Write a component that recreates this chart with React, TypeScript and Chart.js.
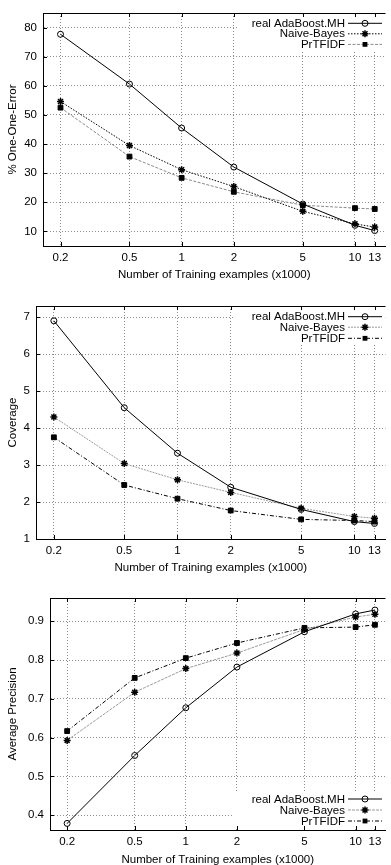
import React, { useEffect, useRef } from 'react';
import { Chart, registerables } from 'chart.js';

Chart.register(...registerables);

// ---------------- data ----------------
const TRAIN_SIZES = [0.2, 0.5, 1, 2, 5, 10, 13];
const X_TICK_LABELS = ['0.2', '0.5', '1', '2', '5', '10', '13'];
const SERIES_NAMES = ['real AdaBoost.MH', 'Naive-Bayes', 'PrTFIDF'];
const X_TITLE = 'Number of Training examples (x1000)';

const ONE_ERROR_ADABOOST = [77.7, 60.6, 45.5, 32.1, 19.4, 12.1, 10.3];
const ONE_ERROR_NAIVE_BAYES = [54.6, 39.5, 31.2, 25.4, 16.9, 12.6, 11.5];
const ONE_ERROR_PRTFIDF = [52.5, 35.7, 28.4, 23.6, 19.0, 18.0, 17.7];
const ONE_ERROR_TICKS = [10, 20, 30, 40, 50, 60, 70, 80];

const COVERAGE_ADABOOST = [6.9, 4.55, 3.32, 2.4, 1.8, 1.47, 1.42];
const COVERAGE_NAIVE_BAYES = [4.3, 3.04, 2.6, 2.26, 1.83, 1.61, 1.56];
const COVERAGE_PRTFIDF = [3.75, 2.46, 2.09, 1.77, 1.53, 1.5, 1.47];
const COVERAGE_TICKS = [1, 2, 3, 4, 5, 6, 7];

const AVGPREC_ADABOOST = [0.379, 0.554, 0.677, 0.782, 0.873, 0.919, 0.929];
const AVGPREC_NAIVE_BAYES = [0.593, 0.717, 0.778, 0.818, 0.879, 0.911, 0.918];
const AVGPREC_PRTFIDF = [0.617, 0.754, 0.805, 0.844, 0.883, 0.885, 0.891];
const AVGPREC_TICKS = [0.4, 0.5, 0.6, 0.7, 0.8, 0.9];

// ---------------- styling ----------------
const W = 391;
const X_MIN = 0.1585;
const X_MAX = 15;
const FONT_FAMILY = '"Liberation Sans", Arial, Helvetica, sans-serif';
const FONT_SIZE = 11.5;
const FONT = { family: FONT_FAMILY, size: FONT_SIZE };
const GRID_COLOR = '#8c8c8c';

type Marker = 'circle' | 'star' | 'rect';
interface SeriesStyle { color: string; dash: number[]; marker: Marker; }
interface LegendCfg { boxLeft: number; boxTop: number; boxBottom: number; rows: number[]; }
interface PanelCfg {
  top: number;
  height: number;
  areaTop: number;
  areaLeft: number;
  areaBottom: number;
  yTitle: string;
  yMin: number;
  yMax: number;
  yTicks: number[];
  values: number[][];
  styles: SeriesStyle[];
  legend: LegendCfg;
  xTitlePad: number;
}

const SOLID: SeriesStyle = { color: '#000', dash: [], marker: 'circle' };

const PANELS: PanelCfg[] = [
  {
    top: 0, height: 290, areaTop: 13, areaLeft: 43, areaBottom: 246,
    yTitle: '% One-One-Error', yMin: 5, yMax: 85, yTicks: ONE_ERROR_TICKS,
    values: [ONE_ERROR_ADABOOST, ONE_ERROR_NAIVE_BAYES, ONE_ERROR_PRTFIDF],
    styles: [
      SOLID,
      { color: '#000', dash: [1.5, 1.5], marker: 'star' },
      { color: '#8a8a8a', dash: [3, 1.5], marker: 'rect' },
    ],
    legend: { boxLeft: 238, boxTop: 13, boxBottom: 52, rows: [23.3, 33.8, 44.4] },
    xTitlePad: 8.1,
  },
  {
    top: 290, height: 290, areaTop: 16, areaLeft: 36, areaBottom: 249,
    yTitle: 'Coverage', yMin: 1, yMax: 7.3, yTicks: COVERAGE_TICKS,
    values: [COVERAGE_ADABOOST, COVERAGE_NAIVE_BAYES, COVERAGE_PRTFIDF],
    styles: [
      SOLID,
      { color: '#9a9a9a', dash: [2, 1], marker: 'star' },
      { color: '#000', dash: [4, 2, 1, 2], marker: 'rect' },
    ],
    legend: { boxLeft: 235, boxTop: 16, boxBottom: 55, rows: [26.7, 37.2, 48.3] },
    xTitlePad: 5.1,
  },
  {
    top: 580, height: 290, areaTop: 18, areaLeft: 50, areaBottom: 250,
    yTitle: 'Average Precision', yMin: 0.362, yMax: 0.96, yTicks: AVGPREC_TICKS,
    values: [AVGPREC_ADABOOST, AVGPREC_NAIVE_BAYES, AVGPREC_PRTFIDF],
    styles: [
      SOLID,
      { color: '#9a9a9a', dash: [3, 1], marker: 'star' },
      { color: '#000', dash: [4, 2, 1, 2], marker: 'rect' },
    ],
    legend: { boxLeft: 234, boxTop: 212, boxBottom: 249, rows: [219, 230, 241] },
    xTitlePad: 3.1,
  },
];

function drawMarker(ctx: CanvasRenderingContext2D, marker: Marker, x: number, y: number) {
  ctx.save();
  ctx.setLineDash([]);
  ctx.strokeStyle = '#000';
  ctx.fillStyle = '#000';
  if (marker === 'circle') {
    ctx.lineWidth = 1;
    ctx.beginPath();
    ctx.arc(x, y, 3, 0, Math.PI * 2);
    ctx.stroke();
  } else if (marker === 'star') {
    const r = 3.5;
    const d = r * Math.SQRT1_2;
    ctx.lineWidth = 1.5;
    ctx.beginPath();
    ctx.moveTo(x - r, y); ctx.lineTo(x + r, y);
    ctx.moveTo(x, y - r); ctx.lineTo(x, y + r);
    ctx.moveTo(x - d, y - d); ctx.lineTo(x + d, y + d);
    ctx.moveTo(x - d, y + d); ctx.lineTo(x + d, y - d);
    ctx.stroke();
  } else {
    ctx.fillRect(x - 2.4, y - 2.4, 4.8, 4.8);
  }
  ctx.restore();
}

function buildConfig(cfg: PanelCfg): any {
  const datasets = cfg.values.map((vals, i) => {
    const st = cfg.styles[i];
    return {
      label: SERIES_NAMES[i],
      data: TRAIN_SIZES.map((x, j) => ({ x, y: vals[j] })),
      borderColor: st.color,
      borderWidth: 1,
      borderDash: st.dash,
      fill: false,
      tension: 0,
      pointStyle: st.marker === 'circle' ? 'circle' : st.marker === 'star' ? 'star' : 'rect',
      pointRadius: st.marker === 'circle' ? 3 : st.marker === 'star' ? 3.5 : 3.4,
      pointBorderColor: '#000',
      pointBackgroundColor: st.marker === 'circle' ? 'rgba(0,0,0,0)' : '#000',
      pointBorderWidth: st.marker === 'star' ? 1.5 : 1,
      order: i,
    };
  });

  const keyPlugin = {
    id: 'gnuplotKey',
    beforeDatasetsDraw(chart: any) {
      const { ctx, chartArea } = chart;
      const lg = cfg.legend;
      ctx.save();
      ctx.fillStyle = '#fff';
      ctx.fillRect(lg.boxLeft, lg.boxTop + 1, chartArea.right - lg.boxLeft, lg.boxBottom - lg.boxTop - 1);
      ctx.restore();
    },
    afterDatasetsDraw(chart: any) {
      const { ctx } = chart;
      const lg = cfg.legend;
      ctx.save();
      ctx.font = `${FONT_SIZE}px ${FONT_FAMILY}`;
      ctx.textAlign = 'right';
      ctx.textBaseline = 'middle';
      SERIES_NAMES.forEach((name, i) => {
        const y = lg.rows[i];
        const st = cfg.styles[i];
        ctx.fillStyle = '#000';
        ctx.fillText(name, 345, y + 0.5);
        ctx.strokeStyle = st.color;
        ctx.lineWidth = 1;
        ctx.setLineDash(st.dash);
        ctx.beginPath();
        ctx.moveTo(348, y);
        ctx.lineTo(382, y);
        ctx.stroke();
        drawMarker(ctx, st.marker, 365, y);
      });
      ctx.restore();
    },
  };

  const framePlugin = {
    id: 'gnuplotFrame',
    afterDraw(chart: any) {
      const { ctx, chartArea, scales } = chart;
      const { left, right, top, bottom } = chartArea;
      ctx.save();
      ctx.setLineDash([]);
      ctx.strokeStyle = '#000';
      ctx.lineWidth = 1;
      const ty = Math.floor(top) + 0.5;
      ctx.beginPath();
      ctx.moveTo(left, ty);
      ctx.lineTo(right, ty);
      TRAIN_SIZES.forEach((v) => {
        const px = Math.round(scales.x.getPixelForValue(v)) + 0.5;
        ctx.moveTo(px, bottom);
        ctx.lineTo(px, bottom - 4);
        ctx.moveTo(px, top);
        ctx.lineTo(px, top + 4);
      });
      cfg.yTicks.forEach((v) => {
        const py = Math.round(scales.y.getPixelForValue(v)) + 0.5;
        ctx.moveTo(left, py);
        ctx.lineTo(left + 4, py);
      });
      ctx.stroke();
      ctx.restore();
    },
  };

  return {
    type: 'line',
    data: { datasets },
    plugins: [keyPlugin, framePlugin],
    options: {
      responsive: false,
      maintainAspectRatio: false,
      animation: false,
      devicePixelRatio: 1,
      layout: { padding: { top: cfg.areaTop, left: 0, right: 0, bottom: 0 } },
      plugins: { legend: { display: false }, tooltip: { enabled: false }, title: { display: false } },
      scales: {
        x: {
          type: 'logarithmic',
          position: 'bottom',
          min: X_MIN,
          max: X_MAX,
          afterBuildTicks: (s: any) => { s.ticks = TRAIN_SIZES.map((v) => ({ value: v })); },
          afterFit: (s: any) => { s.height = cfg.height - cfg.areaBottom; },
          ticks: {
            autoSkip: false,
            maxRotation: 0,
            minRotation: 0,
            padding: 4.5,
            color: '#000',
            font: FONT,
            callback: (v: number) => {
              const idx = TRAIN_SIZES.indexOf(v);
              return idx >= 0 ? X_TICK_LABELS[idx] : '';
            },
          },
          grid: { color: GRID_COLOR, lineWidth: 1, drawTicks: false },
          border: { display: true, color: '#000', width: 1, dash: [1, 2] },
          title: {
            display: true,
            text: X_TITLE,
            color: '#000',
            font: FONT,
            padding: { top: 0, bottom: cfg.xTitlePad },
          },
        },
        y: {
          type: 'linear',
          position: 'left',
          min: cfg.yMin,
          max: cfg.yMax,
          afterBuildTicks: (s: any) => { s.ticks = cfg.yTicks.map((v) => ({ value: v })); },
          afterFit: (s: any) => { s.width = cfg.areaLeft; },
          ticks: {
            padding: 6,
            color: '#000',
            font: FONT,
            callback: (v: number) => String(v),
          },
          grid: { color: GRID_COLOR, lineWidth: 1, drawTicks: false },
          border: { display: true, color: '#000', width: 1, dash: [1, 2] },
          title: {
            display: true,
            text: cfg.yTitle,
            color: '#000',
            font: FONT,
            padding: { top: 5.5, bottom: 0 },
          },
        },
      },
    },
  };
}

function Panel({ cfg }: { cfg: PanelCfg }) {
  const ref = useRef<HTMLCanvasElement>(null);
  useEffect(() => {
    if (!ref.current) return;
    const chart = new Chart(ref.current, buildConfig(cfg));
    return () => chart.destroy();
  }, [cfg]);
  return (
    <canvas
      ref={ref}
      width={W}
      height={cfg.height}
      style={{ position: 'absolute', left: 0, top: cfg.top, width: W, height: cfg.height, display: 'block' }}
    />
  );
}

export default function App() {
  return (
    <div
      style={{
        position: 'absolute',
        left: 0,
        top: 0,
        width: W,
        height: 865,
        overflow: 'hidden',
        background: '#fff',
      }}
    >
      {PANELS.map((p, i) => (
        <Panel key={i} cfg={p} />
      ))}
    </div>
  );
}
